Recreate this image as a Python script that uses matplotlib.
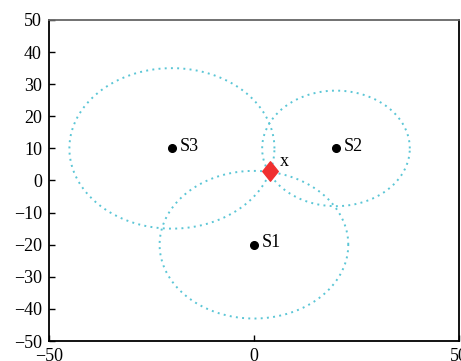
import numpy as np
import matplotlib
matplotlib.use("Agg")
import matplotlib.pyplot as plt
from matplotlib.path import Path

plt.rcParams['font.family'] = ['Liberation Serif', 'DejaVu Serif']

names = ["S1", "S2", "S3"]
sx = [0, 20, -20]
sy = [-20, 10, 10]
radii = [23, 18, 25]
est_x = [3.9]
est_y = [3.0]
est_label = "x"

fig = plt.figure(figsize=(4.61, 3.61), dpi=100)
ax = fig.add_axes([0.106, 0.0554, 0.8897, 0.8892])

t = np.linspace(0, 2 * np.pi, 400)
for x0, y0, r in zip(sx, sy, radii):
    ax.plot(x0 + r * np.cos(t), y0 + r * np.sin(t), linestyle=(0, (1, 2.2)),
            color='#5bc6d6', linewidth=1.4)

ax.plot(sx, sy, 'o', color='black', markersize=5.5, linestyle='none')
for n, x0, y0 in zip(names, sx, sy):
    ax.text(x0 + 2, y0 + 0.6, n, fontsize=13, va='center', ha='left')

diamond = Path([(0, 1), (0.8, 0), (0, -1), (-0.8, 0), (0, 1)],
               [Path.MOVETO, Path.LINETO, Path.LINETO, Path.LINETO, Path.CLOSEPOLY])
ax.plot(est_x, est_y, marker=diamond, color='#f03030', markersize=14, linestyle='none')
ax.text(est_x[0] + 2.3, est_y[0] + 2.8, est_label, fontsize=13, va='center', ha='left')

ax.set_xlim(-50, 50)
ax.set_ylim(-50, 50)
ax.set_xticks([-50, 0, 50])
ax.set_yticks(np.arange(-50, 51, 10))
ax.set_xticklabels(["\u221250", "0", "50"])
ax.set_yticklabels([("\u2212%d" % -v) if v < 0 else str(v) for v in range(-50, 51, 10)])
ax.tick_params(direction='in', length=4, labelsize=13, width=1, pad=5, top=False, right=False)
for s in ax.spines.values():
    s.set_linewidth(1.3)
ax.spines['top'].set_color('#666666')

fig.savefig("out.png", dpi=100)
